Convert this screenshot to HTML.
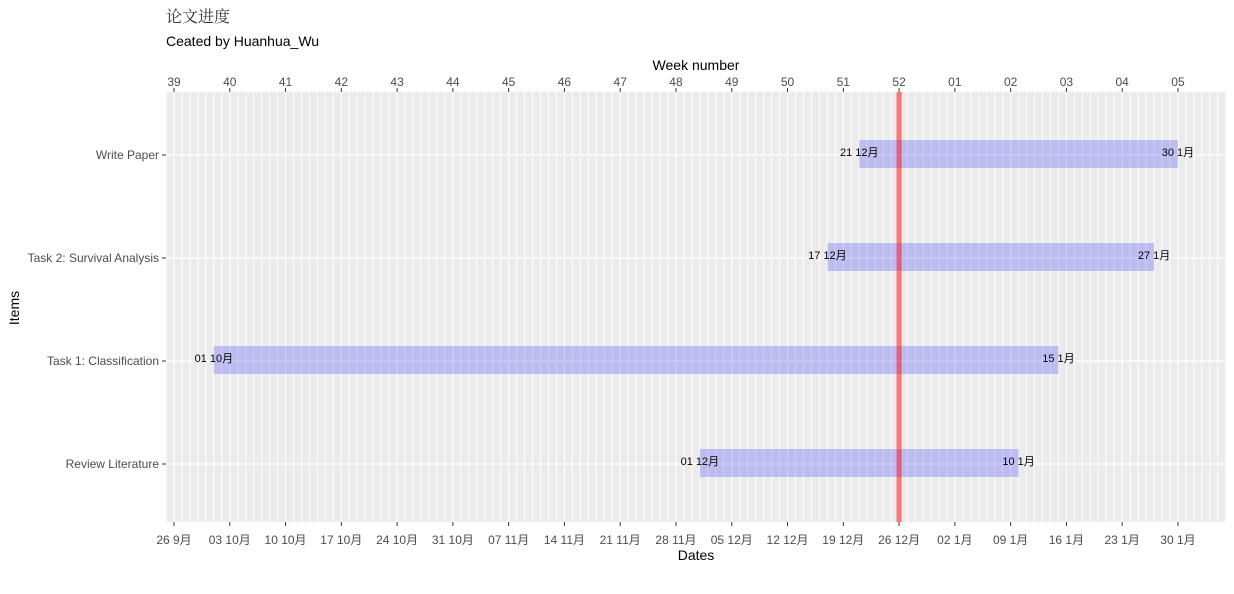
<!DOCTYPE html>
<html><head><meta charset="utf-8"><style>
body{margin:0;background:#fff;}
svg text{font-family:"Liberation Sans","Noto Sans CJK SC",sans-serif;}
</style></head><body>
<svg id="c" width="1234" height="589" xmlns="http://www.w3.org/2000/svg">
<text x="166" y="22" font-size="16" fill="#333" style="font-family:'Noto Serif CJK SC',serif">论文进度</text>
<text x="166" y="46" font-size="14" fill="#000">Ceated by Huanhua_Wu</text>
<text x="696" y="70" font-size="14" fill="#000" text-anchor="middle">Week number</text>
<text x="696" y="560" font-size="14" fill="#000" text-anchor="middle">Dates</text>
<text x="19" y="308" font-size="14" fill="#000" text-anchor="middle" transform="rotate(-90 19 308)">Items</text>
<g id="plot"></g>
</svg>
<script>
const tasks=["Review Literature","Task 1: Classification","Task 2: Survival Analysis","Write Paper"];
const startDay=[66,5,82,86];   // days after 26 Sep
const endDay=[106,111,123,126];
const startLbl=["01 12月","01 10月","17 12月","21 12月"];
const endLbl=["10 1月","15 1月","27 1月","30 1月"];
const weekLabels=["39","40","41","42","43","44","45","46","47","48","49","50","51","52","01","02","03","04","05"];
const dateLabels=["26 9月","03 10月","10 10月","17 10月","24 10月","31 10月","07 11月","14 11月","21 11月","28 11月","05 12月","12 12月","19 12月","26 12月","02 1月","09 1月","16 1月","23 1月","30 1月"];
const today=91;

const NS="http://www.w3.org/2000/svg";
const g=document.getElementById('plot');
const L=166,R=1226,T=92,B=522;
const x=d=>174+d*7.968;
const y=i=>464-i*103;
function el(t,a,p){const e=document.createElementNS(NS,t);for(const k in a)e.setAttribute(k,a[k]);(p||g).appendChild(e);return e;}
const bg=el('rect',{x:L,y:T,width:R-L,height:B-T,fill:'#ebebeb'});


for(let d=-1;d<=132;d++){const X=x(d);if(X<L||X>R)continue;
 const ln=el('line',{x1:X,x2:X,y1:T,y2:B,stroke:'#fff','stroke-width':d%7===0?1.2:1});
 
 }
tasks.forEach((t,i)=>{
 const ln=el('line',{x1:L,x2:R,y1:y(i),y2:y(i),stroke:'#fff','stroke-width':1.2});
 
 
 el('line',{x1:162,x2:166,y1:y(i),y2:y(i),stroke:'#333'});
 const tl=el('text',{x:159,y:y(i)+4,'font-size':12,fill:'#4d4d4d','text-anchor':'end'});tl.textContent=t;
 
 
});
tasks.forEach((t,i)=>{
 const b=el('rect',{x:x(startDay[i]),y:y(i)-15,width:x(endDay[i])-x(startDay[i]),height:28,fill:'#0000ff','fill-opacity':0.2});
 
 
});
const tl=el('rect',{x:x(today)-2.5,y:T,width:5,height:B-T,fill:'#ff0000','fill-opacity':0.5});


tasks.forEach((t,i)=>{
 const a=el('text',{x:x(startDay[i]),y:y(i)+1,'font-size':11,fill:'#000','text-anchor':'middle'});a.textContent=startLbl[i];
 
 
 const b=el('text',{x:x(endDay[i]),y:y(i)+1,'font-size':11,fill:'#000','text-anchor':'middle'});b.textContent=endLbl[i];
 
 
});
dateLabels.forEach((d,k)=>{const X=x(k*7);
 el('line',{x1:X,x2:X,y1:B,y2:B+4,stroke:'#333'});
 el('line',{x1:X,x2:X,y1:T-4,y2:T,stroke:'#333'});
 const a=el('text',{x:X,y:544,'font-size':12,fill:'#4d4d4d','text-anchor':'middle'});a.textContent=d;
 
 
 const w=el('text',{x:X,y:86,'font-size':12,fill:'#4d4d4d','text-anchor':'middle'});w.textContent=weekLabels[k];
 
 
});
</script>
</body></html>
